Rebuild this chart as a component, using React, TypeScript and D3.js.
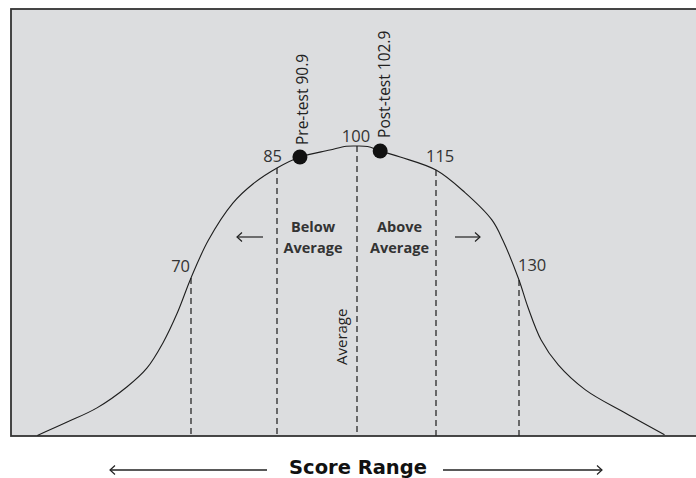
import React from "react";
import * as d3 from "d3";

// ---- data ----
const markerScores = [70, 85, 100, 115, 130];
const markerLabels = ["70", "85", "100", "115", "130"];
const markerFreqs = [54.5, 92.4, 100, 91.7, 53.8];

const curveScores = [43.2, 48.4, 53.6, 58.8, 62.3, 65.1, 67.6, 70, 73.0, 77.3, 80.8, 85, 89.3, 94.9, 98.0, 100, 102.0, 104.4, 108.2, 115, 120.2, 125.1, 127.1, 130, 131.6, 134.0, 137.1, 142.0, 149.2, 156.3];
const curveFreqs = [0.2, 4.8, 9.7, 16.9, 23.4, 32.1, 42.4, 54.5, 67.4, 80.3, 86.9, 92.4, 96.2, 98.6, 99.9, 100, 99.8, 98.3, 96.2, 91.7, 84.0, 74.5, 67.4, 53.8, 44.5, 33.1, 24.5, 15.9, 7.9, 0.4];

const dotScores = [89.3, 104.4];
const dotFreqs = [96.2, 98.3];
const dotLabels = ["Pre-test 90.9", "Post-test 102.9"];

const regionLabels = [["Below", "Average"], ["Above", "Average"]];
const axisTitle = "Score Range";
const averageLabel = "Average";

// ---- layout ----
const W = 696;
const H = 478;
const x = d3.scaleLinear().domain([70, 85, 100, 115, 130]).range([191, 277, 357, 436, 519]);
const y = d3.scaleLinear().domain([0, 100]).range([436, 146]);

const labelOffsets: [number, number, string][] = [
  [-1, -6, "end"],
  [5, -6, "end"],
  [-1, -4, "middle"],
  [-10, -8, "start"],
  [-1, -9, "start"],
];
const dotLabelOffsets: [number, number][] = [
  [8, -12],
  [10, -13],
];

const numFont = "'Open Sans', 'DejaVu Sans', sans-serif";

export default function App() {
  const line = d3
    .line<number>()
    .x((_, i) => x(curveScores[i]))
    .y((_, i) => y(curveFreqs[i]))
    .curve(d3.curveCatmullRom.alpha(0.5));
  const pathD = line(curveScores) || "";

  const regionCenters = [(x(85) + x(100)) / 2 - 4, (x(100) + x(115)) / 2 + 3];
  const arrowY = 237;

  const arrowHead = (px: number, py: number, dir: number) =>
    `M${px + dir * -5},${py - 4.5} L${px},${py} L${px + dir * -5},${py + 4.5}`;

  return (
    <svg
      width={W}
      height={H}
      style={{ position: "absolute", left: 0, top: 0, display: "block", background: "#fff" }}
    >
      <rect x={11} y={9} width={700} height={427} fill="#dcdddf" stroke="#333" strokeWidth={1.8} />

      {/* dashed markers */}
      {markerScores.map((s, i) => (
        <line
          key={"m" + i}
          x1={x(s)}
          x2={x(s)}
          y1={y(markerFreqs[i])}
          y2={y(0)}
          stroke="#2a2a2a"
          strokeWidth={1.3}
          strokeDasharray="6,4"
        />
      ))}

      {/* bell curve */}
      <path d={pathD} fill="none" stroke="#1e1e1e" strokeWidth={1.1} />

      {/* marker labels */}
      {markerScores.map((s, i) => (
        <text
          key={"ml" + i}
          x={x(s) + labelOffsets[i][0]}
          y={y(markerFreqs[i]) + labelOffsets[i][1]}
          textAnchor={labelOffsets[i][2] as any}
          fontFamily={numFont}
          fontSize={16.5}
          fill="#333"
        >
          {markerLabels[i]}
        </text>
      ))}

      {/* dots */}
      {dotScores.map((s, i) => (
        <g key={"d" + i}>
          <circle cx={x(s)} cy={y(dotFreqs[i])} r={7.5} fill="#111" />
          <text
            transform={`translate(${x(s) + dotLabelOffsets[i][0]},${y(dotFreqs[i]) + dotLabelOffsets[i][1]}) rotate(-90)`}
            fontFamily={numFont}
            fontSize={15.5}
            fill="#222"
          >
            {dotLabels[i]}
          </text>
        </g>
      ))}

      {/* region labels */}
      {regionLabels.map((lines, i) => (
        <text
          key={"r" + i}
          x={regionCenters[i]}
          y={232}
          textAnchor="middle"
          fontFamily={numFont}
          fontWeight="bold"
          fontSize={14.5}
          fill="#333"
        >
          {lines.map((t, j) => (
            <tspan key={j} x={regionCenters[i]} dy={j === 0 ? 0 : 21}>
              {t}
            </tspan>
          ))}
        </text>
      ))}

      {/* Average vertical */}
      <text
        transform={`translate(${x(100) - 10},365) rotate(-90)`}
        fontFamily={numFont}
        fontSize={15}
        fill="#222"
      >
        {averageLabel}
      </text>

      {/* region arrows */}
      <line x1={237} x2={263} y1={arrowY} y2={arrowY} stroke="#222" strokeWidth={1.2} />
      <path d={arrowHead(237, arrowY, -1)} fill="none" stroke="#222" strokeWidth={1.2} />
      <line x1={455} x2={480} y1={arrowY} y2={arrowY} stroke="#222" strokeWidth={1.2} />
      <path d={arrowHead(480, arrowY, 1)} fill="none" stroke="#222" strokeWidth={1.2} />

      {/* axis title */}
      <text
        x={358}
        y={474}
        textAnchor="middle"
        fontFamily="'DejaVu Sans', sans-serif"
        fontWeight="bold"
        fontSize={19.5}
        fill="#111"
      >
        {axisTitle}
      </text>
      <line x1={110} x2={267} y1={470} y2={470} stroke="#222" strokeWidth={1.3} />
      <path d={arrowHead(110, 470, -1)} fill="none" stroke="#222" strokeWidth={1.2} />
      <line x1={443} x2={602} y1={470} y2={470} stroke="#222" strokeWidth={1.3} />
      <path d={arrowHead(602, 470, 1)} fill="none" stroke="#222" strokeWidth={1.2} />
    </svg>
  );
}
